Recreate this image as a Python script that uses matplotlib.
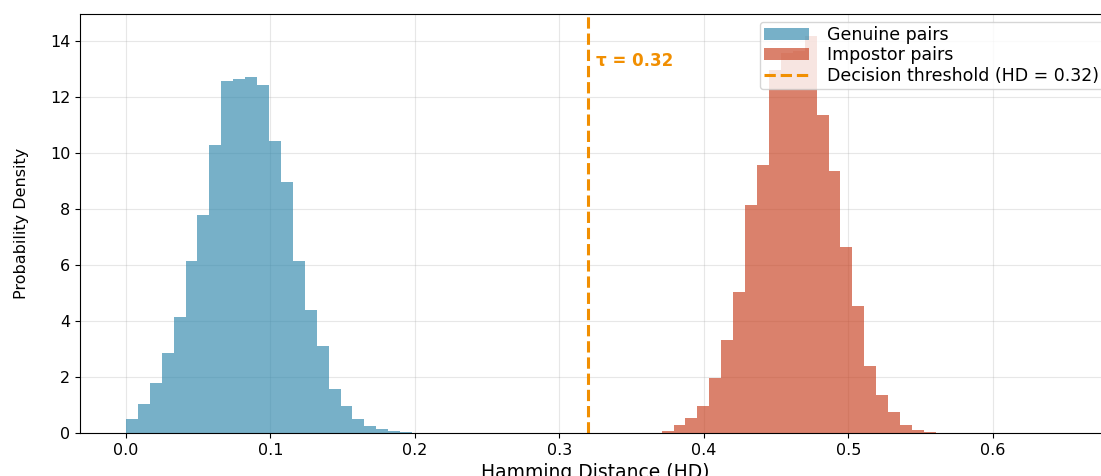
import numpy as np
import matplotlib.pyplot as plt

# Densidades por bin
genuine_start = 0.0
impostor_start = 0.3707
bin_width = 0.00825

genuine_density = [0.49, 1.02, 1.77, 2.86, 4.15, 6.14, 7.80, 10.29, 12.59, 12.63,
                   12.73, 12.44, 10.45, 8.95, 6.16, 4.39, 3.12, 1.56, 0.96, 0.49,
                   0.24, 0.14, 0.07, 0.05]
impostor_density = [0.08, 0.29, 0.54, 0.98, 1.96, 3.32, 5.05, 8.15, 9.59, 12.97,
                    13.58, 13.65, 14.19, 11.36, 9.37, 6.65, 4.55, 2.40, 1.37, 0.75,
                    0.30, 0.09, 0.05]
threshold = 0.32

x_ticks = [0.0, 0.1, 0.2, 0.3, 0.4, 0.5, 0.6]
y_ticks = [0, 2, 4, 6, 8, 10, 12, 14]

gen_edges = genuine_start + bin_width * np.arange(len(genuine_density) + 1)
imp_edges = impostor_start + bin_width * np.arange(len(impostor_density) + 1)

W, H = 1101, 476
fig = plt.figure(figsize=(W / 100, H / 100), dpi=100)
ax = fig.add_axes([80 / W, 43 / H, 1030 / W, 419 / H])

ax.hist(gen_edges[:-1], bins=gen_edges, weights=genuine_density,
        color='#2E86AB', alpha=0.65, label='Genuine pairs')
ax.hist(imp_edges[:-1], bins=imp_edges, weights=impostor_density,
        color='#C73E1D', alpha=0.65, label='Impostor pairs')
ax.axvline(threshold, color='#F18F01', linestyle='--', linewidth=2.2,
           label=f'Decision threshold (HD = {threshold})')
ax.text(threshold + 0.005, 13.3, f'τ = {threshold}', color='#F18F01',
        fontsize=12, fontweight='bold', va='center')

ax.set_xlim(-0.0318, 0.681)
ax.set_ylim(0, 14.97)
ax.set_xticks(x_ticks)
ax.set_yticks(y_ticks)
ax.tick_params(labelsize=11.5)
ax.set_xlabel('Hamming Distance (HD)', fontsize=13.5)
ax.set_ylabel('Probability Density', fontsize=11.5, labelpad=15)
ax.grid(True, alpha=0.3)
ax.set_axisbelow(True)
ax.legend(loc='upper right', fontsize=12.5, labelspacing=0.15, borderpad=0.25,
          handlelength=2.6, handletextpad=1.0, borderaxespad=0,
          bbox_to_anchor=(1103 / W, 1 - 21.5 / H), bbox_transform=fig.transFigure)

fig.savefig('out.png', dpi=100)
